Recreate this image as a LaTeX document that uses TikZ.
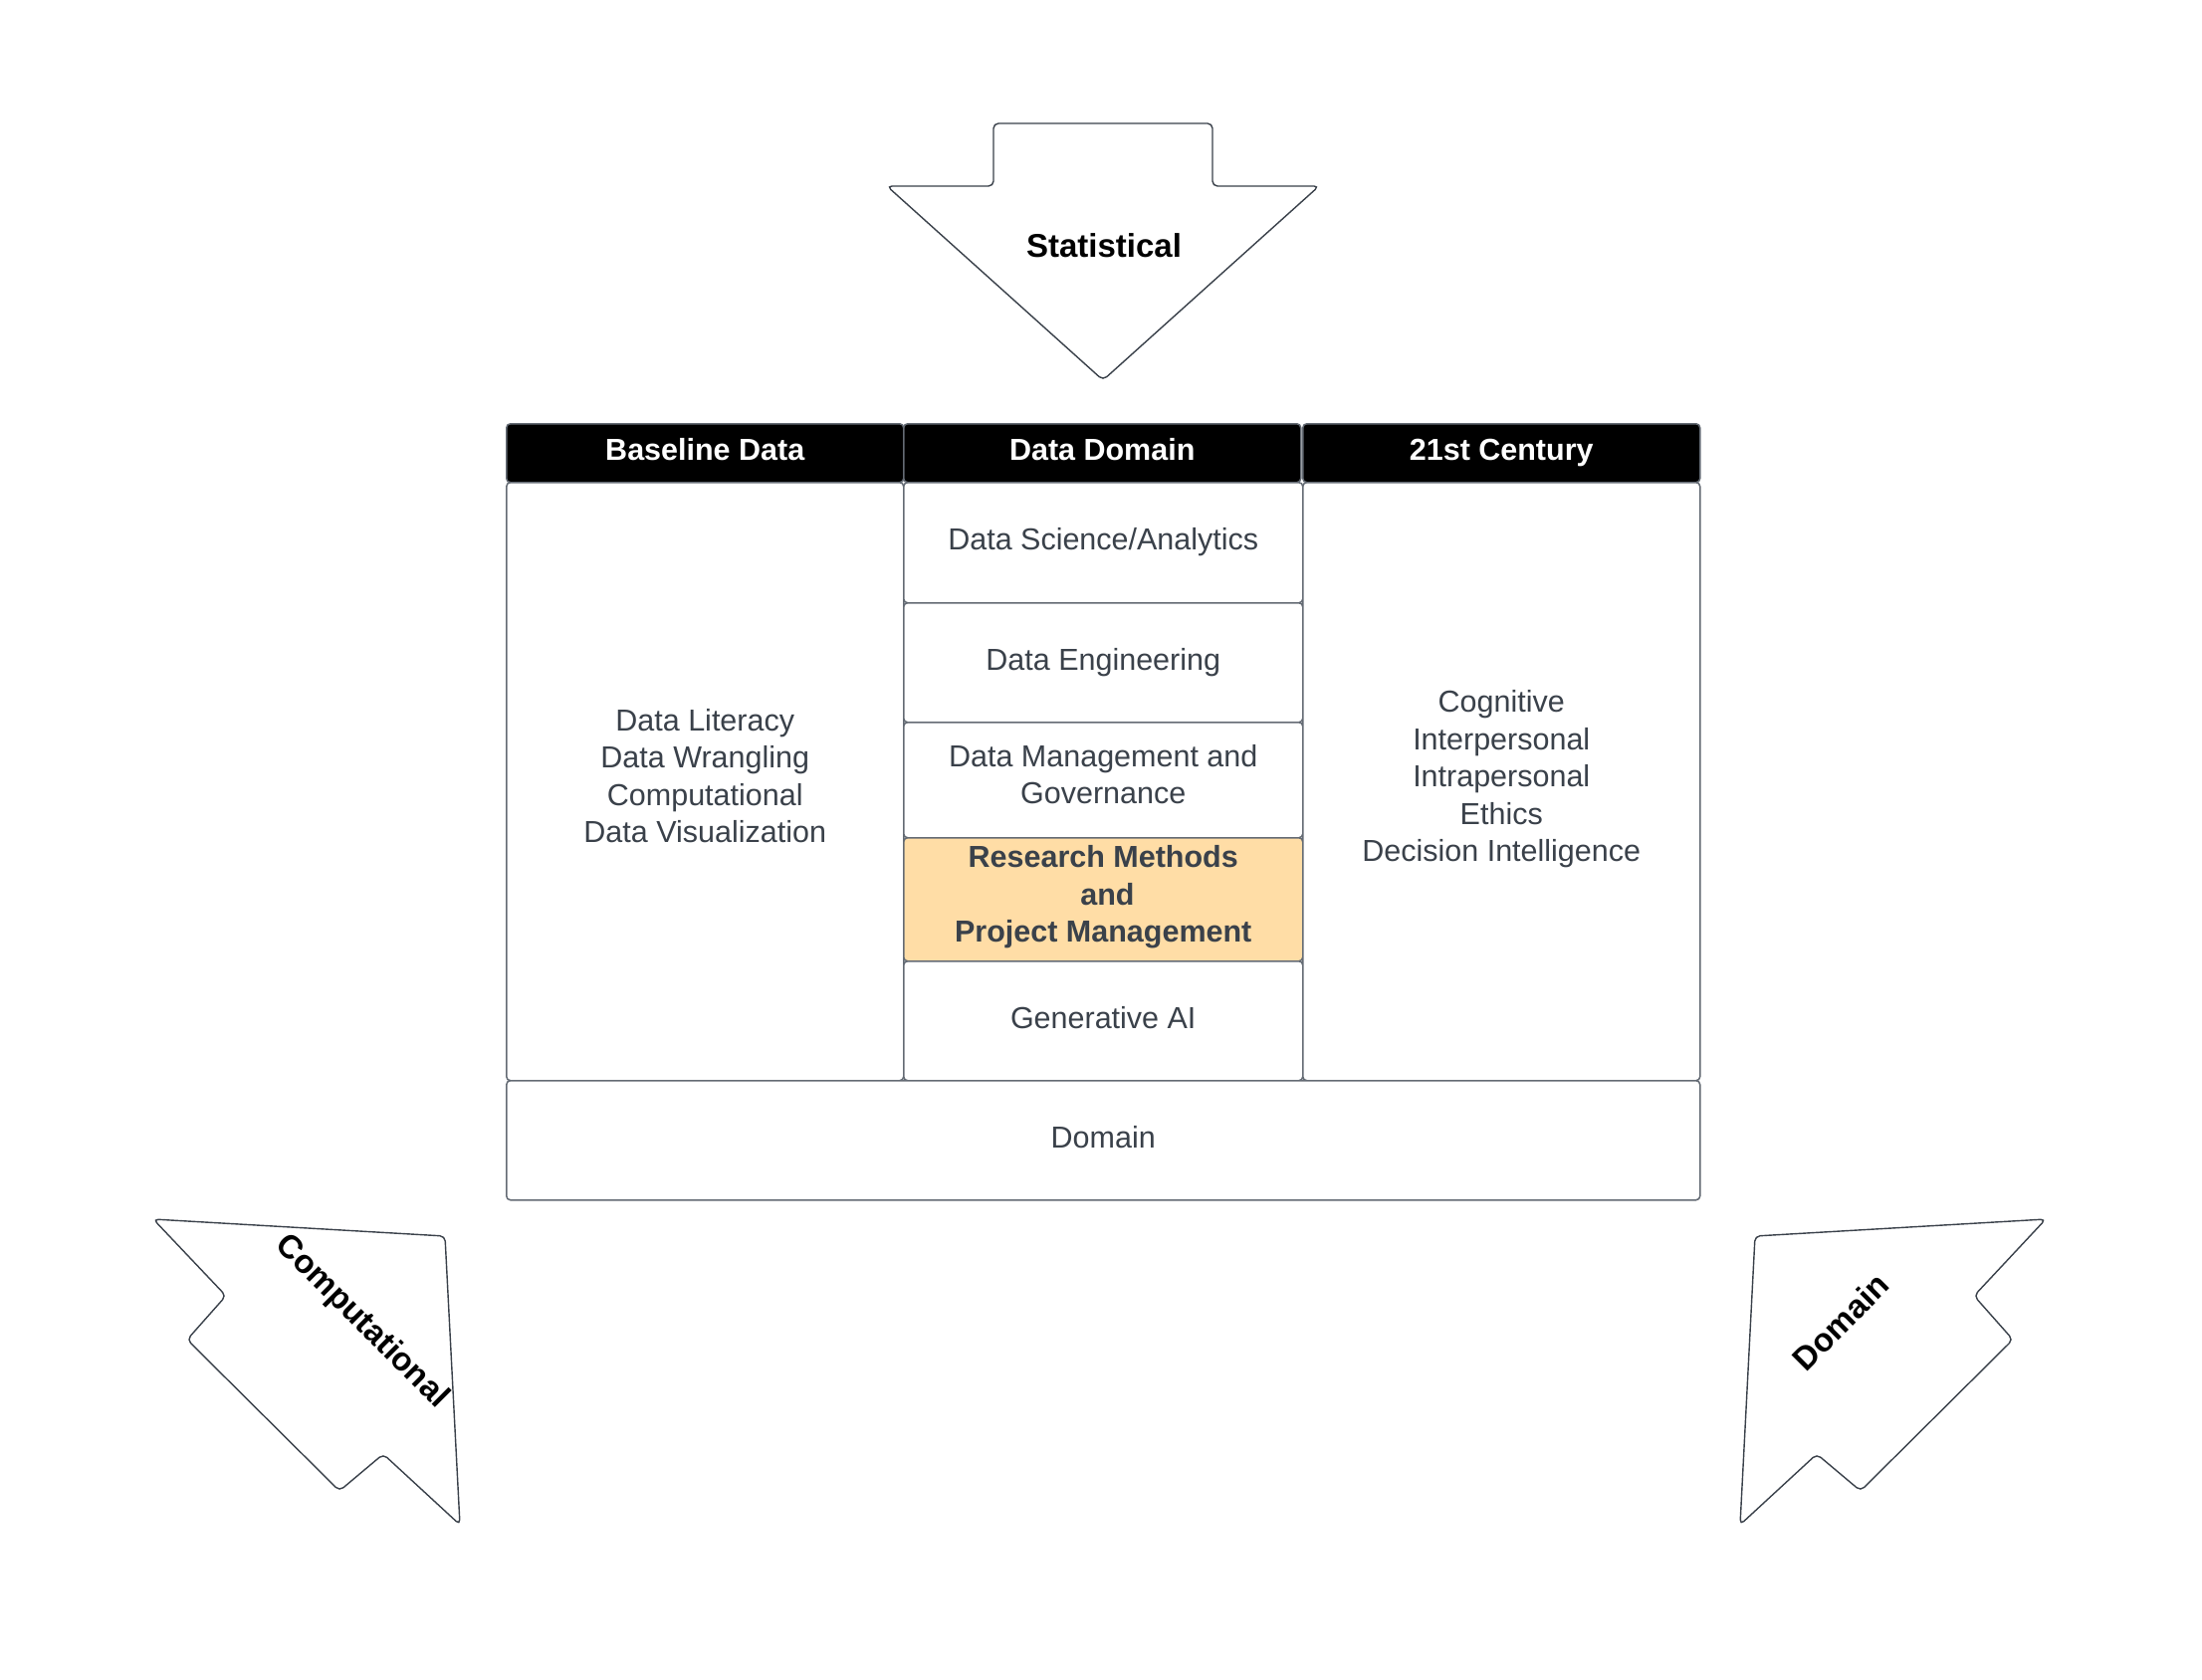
\documentclass[tikz,border=0pt]{standalone}
\usepackage{fontspec}
\setmainfont{Liberation Sans}
\definecolor{txt}{HTML}{3A414A}
\definecolor{bord}{HTML}{646B74}
\definecolor{orangefill}{HTML}{FFDDA6}
\begin{document}
\begin{tikzpicture}[x=1pt,y=-1pt,
  cell/.style={draw=bord, line width=1.5pt, rounded corners=4pt, fill=white,
    anchor=north west, inner sep=0pt, align=center, text=txt,
    font=\fontsize{30.5}{37.5}\selectfont,
    execute at begin node={\strut}, execute at end node={\strut}},
  lowertext/.style={execute at begin node={\rule{0pt}{#1}}},
  headcell/.style={draw=bord, line width=1.5pt, rounded corners=4pt, fill=black,
    anchor=north west, inner sep=0pt, align=center, text=white,
    font=\fontsize{30.5}{37}\selectfont\bfseries,
    minimum width=399pt, minimum height=59pt,
    execute at begin node={\strut}},
  bigarrow/.style={draw=txt, line width=1.4pt, fill=white, rounded corners=5pt},
  arrowlabel/.style={inner sep=0pt, text=black, font=\fontsize{33}{38}\selectfont\bfseries}
]
\useasboundingbox (0,0) rectangle (2212,1688);
\fill[white] (0,0) rectangle (2212,1688);

% Statistical arrow (pointing down)
\draw[bigarrow] (998,124) -- (1218,124) -- (1218,187) -- (1325,187) -- (1108,382)
  -- (891,187) -- (998,187) -- cycle;
\node[arrowlabel] (stat) at (1109,247) {Statistical};

% Computational arrow (pointing up-right)
\draw[bigarrow] (154,1225) -- (447,1242) -- (462,1532) -- (385,1461) -- (341,1498)
  -- (188,1346) -- (227,1302) -- cycle;
\node[arrowlabel, rotate=-45] (comp) at (363,1328) {Computational};

% Domain arrow (pointing up-left)
\draw[bigarrow] (2055,1225) -- (1763,1242) -- (1748,1532) -- (1825,1461) -- (1869,1498)
  -- (2022,1346) -- (1983,1302) -- cycle;
\node[arrowlabel, rotate=45] (dom) at (1849,1328) {Domain};

% Headers
\node[headcell] (h1) at (508,425) {Baseline Data};
\node[headcell] (h2) at (907,425) {Data Domain};
\node[headcell] (h3) at (1308,425) {21st Century};

% Left column
\node[cell, lowertext=30pt, minimum width=399pt, minimum height=601pt] (left) at (508,484)
  {Data Literacy\\Data Wrangling\\Computational\\Data Visualization};

% Middle column
\node[cell, minimum width=401pt, minimum height=121pt] (ds) at (907,484) {Data Science/Analytics};
\node[cell, minimum width=401pt, minimum height=120pt] (de) at (907,605) {Data Engineering};
\node[cell, lowertext=30pt, minimum width=401pt, minimum height=116pt] (dm) at (907,725) {Data Management and\\Governance};
\node[cell, lowertext=31pt, fill=orangefill, minimum width=401pt, minimum height=124pt,
  font=\fontsize{30.5}{37.5}\selectfont\bfseries] (rm) at (907,841)
  {Research Methods\\\hspace*{8.5pt}and\\Project Management};
\node[cell, minimum width=401pt, minimum height=120pt] (ga) at (907,965) {Generative AI};

% Right column
\node[cell, lowertext=28pt, minimum width=399pt, minimum height=601pt] (right) at (1308,484)
  {Cognitive\\Interpersonal\\Intrapersonal\\Ethics\\Decision Intelligence};

% Domain row
\node[cell, minimum width=1199pt, minimum height=120pt] (domrow) at (508,1085) {Domain};
\end{tikzpicture}
\end{document}
